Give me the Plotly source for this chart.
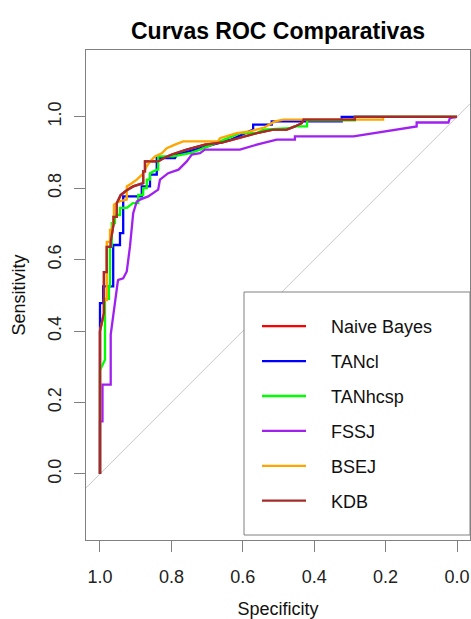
import plotly.graph_objects as go

# ---------------- data ----------------
models = ["Naive Bayes", "TANcl", "TANhcsp", "FSSJ", "BSEJ", "KDB"]
colors = ["#FF0000", "#0000FF", "#00FF00", "#A020F0", "#FFA500", "#A52A2A"]

kdb_spec = [1.0, 1.0, 0.989, 0.989, 0.981, 0.981, 0.97, 0.97, 0.962, 0.962, 0.953, 0.953,
            0.942, 0.924, 0.907, 0.883, 0.879, 0.879, 0.874, 0.874, 0.837, 0.820, 0.799,
            0.757, 0.706, 0.659, 0.617, 0.561, 0.515, 0.477, 0.454, 0.435, 0.430, 0.286,
            0.286, 0.0]
kdb_sens = [0.0, 0.40, 0.45, 0.565, 0.565, 0.636, 0.636, 0.65, 0.70, 0.72, 0.72, 0.758,
            0.781, 0.795, 0.805, 0.814, 0.814, 0.847, 0.847, 0.875, 0.875, 0.885, 0.894,
            0.908, 0.922, 0.928, 0.94, 0.954, 0.964, 0.964, 0.973, 0.982, 0.992, 0.992,
            1.0, 1.0]

nb_spec = list(kdb_spec)
nb_sens = list(kdb_sens)

tancl_spec = [1.0, 1.0, 0.991, 0.991, 0.963, 0.963, 0.944, 0.944, 0.935, 0.935, 0.883,
              0.883, 0.86, 0.86, 0.841, 0.841, 0.79, 0.785, 0.70, 0.631, 0.571, 0.571,
              0.519, 0.519, 0.323, 0.323, 0.0]
tancl_sens = [0.0, 0.478, 0.478, 0.525, 0.525, 0.641, 0.641, 0.674, 0.674, 0.777, 0.777,
              0.805, 0.805, 0.838, 0.838, 0.884, 0.884, 0.894, 0.917, 0.937, 0.964, 0.978,
              0.978, 0.987, 0.987, 1.0, 1.0]

tanhcsp_spec = [1.0, 1.0, 0.986, 0.986, 0.975, 0.975, 0.972, 0.972, 0.967, 0.967, 0.958,
                0.958, 0.944, 0.944, 0.925, 0.908, 0.893, 0.893, 0.879, 0.879, 0.869, 0.869,
                0.86, 0.86, 0.841, 0.837, 0.837, 0.795, 0.748, 0.72, 0.664, 0.608, 0.561,
                0.543, 0.468, 0.454, 0.42, 0.42, 0.286, 0.286, 0.0]
tanhcsp_sens = [0.0, 0.29, 0.32, 0.49, 0.49, 0.525, 0.525, 0.637, 0.637, 0.702, 0.702,
                0.725, 0.725, 0.745, 0.745, 0.758, 0.758, 0.781, 0.781, 0.80, 0.80, 0.824,
                0.824, 0.842, 0.852, 0.852, 0.889, 0.889, 0.898, 0.908, 0.931, 0.954, 0.954,
                0.964, 0.968, 0.973, 0.973, 0.990, 0.990, 1.0, 1.0]

fssj_spec = [1.0, 1.0, 0.993, 0.993, 0.97, 0.97, 0.95, 0.949, 0.935, 0.925, 0.916, 0.907,
             0.897, 0.888, 0.865, 0.846, 0.837, 0.832, 0.809, 0.78, 0.757, 0.743, 0.72,
             0.706, 0.608, 0.561, 0.505, 0.454, 0.454, 0.29, 0.113, 0.113, 0.024, 0.02, 0.0]
fssj_sens = [0.0, 0.147, 0.147, 0.25, 0.25, 0.39, 0.54, 0.543, 0.548, 0.567, 0.637, 0.73,
             0.763, 0.768, 0.777, 0.791, 0.796, 0.824, 0.842, 0.852, 0.875, 0.894, 0.898,
             0.908, 0.908, 0.922, 0.936, 0.936, 0.945, 0.945, 0.973, 0.984, 0.984, 0.996, 1.0]

bsej_spec = [1.0, 1.0, 0.989, 0.989, 0.981, 0.981, 0.972, 0.972, 0.967, 0.961, 0.961, 0.946,
             0.925, 0.925, 0.911, 0.897, 0.88, 0.87, 0.86, 0.846, 0.827, 0.813, 0.79, 0.767,
             0.669, 0.664, 0.617, 0.58, 0.54, 0.51, 0.486, 0.207, 0.207, 0.0]
bsej_sens = [0.0, 0.40, 0.45, 0.487, 0.487, 0.65, 0.65, 0.683, 0.683, 0.72, 0.754, 0.763,
             0.768, 0.805, 0.814, 0.824, 0.84, 0.86, 0.875, 0.889, 0.898, 0.912, 0.922, 0.931,
             0.931, 0.94, 0.954, 0.959, 0.97, 0.987, 0.992, 0.992, 1.0, 1.0]

specs = [nb_spec, tancl_spec, tanhcsp_spec, fssj_spec, bsej_spec, kdb_spec]
senss = [nb_sens, tancl_sens, tanhcsp_sens, fssj_sens, bsej_sens, kdb_sens]

x_ticks = [1.0, 0.8, 0.6, 0.4, 0.2, 0.0]
y_ticks = [0.0, 0.2, 0.4, 0.6, 0.8, 1.0]
x_range = [1.0392, -0.0364]
y_range = [-0.185, 1.187]

# ---------------- figure ----------------
fig = go.Figure()

diag_x = list(x_range)
diag_y = [1 - v for v in diag_x]
fig.add_trace(go.Scatter(x=diag_x, y=diag_y, mode="lines",
                         line=dict(color="#C8C8C8", width=1),
                         showlegend=False, hoverinfo="skip"))

pad = "\u00a0\u00a0\u00a0\u00a0"
for m, c, sx, sy in zip(models, colors, specs, senss):
    fig.add_trace(go.Scatter(x=sx, y=sy, mode="lines", name=pad + m, legendgroup=m,
                             line=dict(color=c, width=2.3)))

font_family = "Liberation Sans, Arial, sans-serif"
axis_common = dict(showline=True, mirror=True, linecolor="#808080", linewidth=1,
                   ticks="outside", ticklen=11, tickcolor="#808080", tickwidth=1,
                   showgrid=False, zeroline=False, automargin=False,
                   tickfont=dict(family=font_family, size=18, color="#222222"))

fig.update_layout(
    width=471, height=619,
    margin=dict(l=86, r=1, t=50, b=79),
    paper_bgcolor="white", plot_bgcolor="white",
    font=dict(family=font_family, color="#111111"),
    title=dict(text="<b>Curvas ROC Comparativas</b>", x=278 / 471, xanchor="center",
               y=1 - 31 / 619, yanchor="middle", yref="container",
               font=dict(family=font_family, size=23, color="#000000")),
    xaxis=dict(range=x_range, tickvals=x_ticks, ticktext=[f"{v:.1f}" for v in x_ticks],
               ticklabelstandoff=9,
               title=dict(text="Specificity", font=dict(family=font_family, size=18, color="#111111"),
                          standoff=16),
               **axis_common),
    yaxis=dict(range=y_range, tickvals=y_ticks, ticktext=[f"{v:.1f}" for v in y_ticks],
               tickangle=-90, ticklabelstandoff=6,
               title=dict(text="Sensitivity", font=dict(family=font_family, size=18, color="#111111"),
                          standoff=14),
               **axis_common),
    legend=dict(x=(257 - 86) / 384, xanchor="left", y=(540 - 308) / 490, yanchor="top",
                bgcolor="rgba(0,0,0,0)", borderwidth=0,
                font=dict(family=font_family, size=18, color="#111111"),
                tracegroupgap=8.5, itemwidth=44, traceorder="grouped"),
    shapes=[dict(type="rect", xref="paper", yref="paper",
                 x0=(244 - 86) / 384, x1=1.0, y0=(540 - 535) / 490, y1=(540 - 292) / 490,
                 line=dict(color="#808080", width=1), fillcolor="white", layer="above")],
    showlegend=True,
)

fig.write_html("out.html", config={"displayModeBar": False},
               post_script="document.body.style.margin='0';")
